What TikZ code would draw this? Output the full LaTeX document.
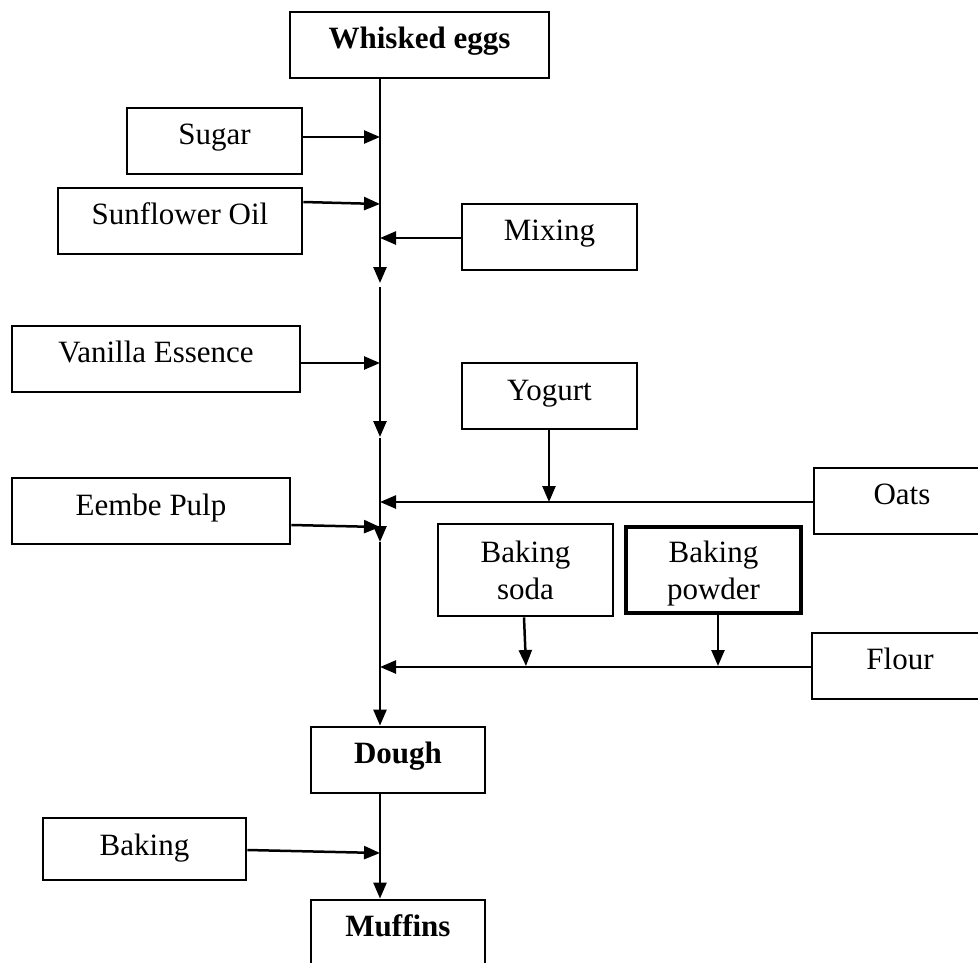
\documentclass[tikz,border=0pt]{standalone}
\usepackage{fontspec}
\setmainfont{Liberation Serif}
\usetikzlibrary{arrows.meta}
\begin{document}
\begin{tikzpicture}[x=1pt,y=-1pt,
  box/.style={draw, line width=2.8pt, rectangle, inner sep=0pt,
    minimum height=66pt, text height=23pt, text depth=17pt,
    font=\fontsize{31pt}{37pt}\selectfont},
  twobox/.style={draw, line width=2.8pt, rectangle, inner sep=0pt,
    align=center, font=\fontsize{31pt}{37pt}\selectfont},
  boldbox/.style={box, font=\fontsize{31pt}{37pt}\selectfont\bfseries},
  flow/.style={line width=2.5pt, -{Triangle[length=16pt,width=13pt]}}
]
\useasboundingbox (0,0) rectangle (978,962);
\fill[white] (0,0) rectangle (978,962);

% boxes
\node[boldbox, minimum width=259pt] (whisked) at (419.5,45) {Whisked eggs};
\node[box, minimum width=175pt] (sugar) at (214.5,141) {Sugar};
\node[box, minimum width=244pt] (sunflower) at (180,221) {Sunflower Oil};
\node[box, minimum width=175pt] (mixing) at (549.5,237) {Mixing};
\node[box, minimum width=288pt] (vanilla) at (156,359) {Vanilla Essence};
\node[box, minimum width=175pt, text height=24pt, text depth=16pt] (yogurt) at (549.5,396) {Yogurt};
\node[box, minimum width=176pt] (oats) at (902,501) {Oats};
\node[box, minimum width=278pt, text height=24pt, text depth=16pt] (eembe) at (151,511) {Eembe Pulp};
\node[twobox, minimum width=175pt, minimum height=92pt] (soda) at (525.5,570) {Baking\\soda};
\node[twobox, line width=3.6pt, text depth=0pt, minimum width=175pt, minimum height=86pt] (powder) at (713.5,570) {Baking\\powder};
\node[box, minimum width=176pt] (flour) at (900,666) {Flour};
\node[boldbox, minimum width=174pt] (dough) at (398,760) {Dough};
\node[box, minimum width=203pt, minimum height=62pt, text height=26pt, text depth=14pt] (baking) at (144.5,849) {Baking};
\node[boldbox, minimum width=174pt] (muffins) at (398,933) {Muffins};

% junction points on the main line
\coordinate (m0) at (380,78);
\coordinate (m1) at (380,283);
\coordinate (m1b) at (380,287);
\coordinate (m2) at (380,437);
\coordinate (m2b) at (380,438);
\coordinate (m3) at (380,542);
\coordinate (jsugar) at (380,137);
\coordinate (jsun) at (380,204);
\coordinate (jmix) at (380,238);
\coordinate (jvan) at (380,363);
\coordinate (joats) at (380,502);
\coordinate (jyog) at (549,502);
\coordinate (jeembe) at (380,527);
\coordinate (jflour) at (380,667);
\coordinate (jsoda) at (526,666);
\coordinate (jpowder) at (718,666);
\coordinate (jbake) at (380,853);

% main line
\draw[flow] (m0) -- (m1);
\draw[flow] (m1b) -- (m2);
\draw[flow] (m2b) -- (m3);
\draw[flow] (m3) -- (m3 |- dough.north);
\draw[flow] (m3 |- dough.south) -- (m3 |- muffins.north);

% inputs
\draw[flow] ([yshift=4pt]sugar.east) -- (jsugar);
\draw[flow] ([yshift=19pt]sunflower.east) -- (jsun);
\draw[flow] ([yshift=-1pt]mixing.west) -- (jmix);
\draw[flow] ([yshift=-4pt]vanilla.east) -- (jvan);
\draw[flow] (yogurt.south -| jyog) -- (jyog);
\draw[flow] ([yshift=-1pt]oats.west) -- (joats);
\draw[flow] ([yshift=-14pt]eembe.east) -- (jeembe);
\draw[flow] ([xshift=-1.5pt]soda.south) -- (jsoda);
\draw[flow] (powder.south -| jpowder) -- (jpowder);
\draw[flow] ([yshift=-1pt]flour.west) -- (jflour);
\draw[flow] ([yshift=-1pt]baking.east) -- (jbake);
\end{tikzpicture}
\end{document}
